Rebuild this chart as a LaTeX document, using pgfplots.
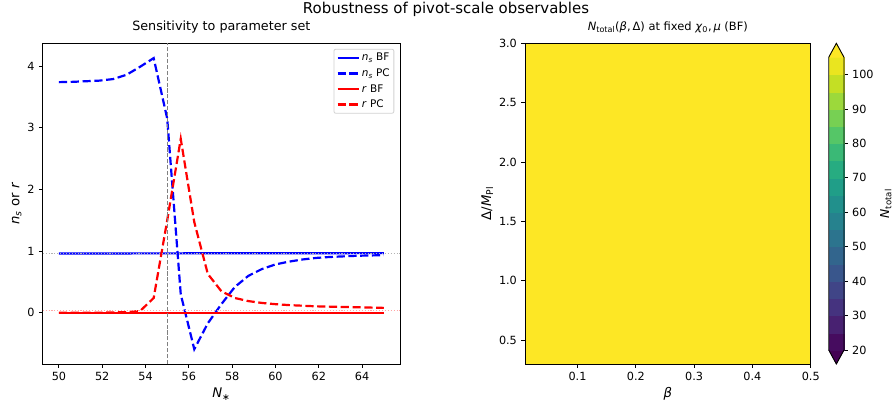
\documentclass[border=0pt]{standalone}
\usepackage{fontspec}
\setmainfont{DejaVu Sans}
\usepackage{pgfplots}
\pgfplotsset{compat=1.18}
\usepgfplotslibrary{patchplots}

\definecolor{vyellow}{HTML}{FDE725}
\newcommand{\ns}{\textit{n}\textsubscript{\textit{s}}}

\pgfplotsset{
  mpl/.style={
    scale only axis,
    tick align=outside,
    major tick length=3.9bp,
    every tick/.style={black, line width=0.9bp},
    axis line style={line width=0.9bp},
    xtick pos=bottom, ytick pos=left,
    ticklabel style={font=\fontsize{11.3}{13}\selectfont, inner sep=0pt},
    /pgf/number format/assume math mode=true,
    xticklabel shift=4bp,
    yticklabel shift=4bp,
    label style={font=\fontsize{13.3}{16}\selectfont, inner sep=0pt},
    title style={font=\fontsize{12.8}{15}\selectfont, at={(axis description cs:0.5,1)},
      anchor=base, yshift=6.6bp, inner sep=0pt},
  },
}

% N_* grid (25 points)
\pgfplotstableread{
N      nsBF    nsPC    rBF     rPC
50     0.962   3.740   0.003   0.000
50.625 0.962   3.745   0.003   0.000
51.25  0.962   3.755   0.003   0.000
51.875 0.963   3.765   0.003   0.002
52.5   0.963   3.790   0.003   0.005
53.125 0.963   3.860   0.003   0.012
53.75  0.964   3.990   0.003   0.030
54.375 0.964   4.130   0.003   0.240
55     0.964   3.150   0.003   1.500
55.625 0.964   0.300   0.003   2.820
56.25  0.965   -0.590  0.003   1.470
56.875 0.965   -0.170  0.003   0.630
57.5   0.965   0.140   0.003   0.350
58.125 0.965   0.420   0.003   0.240
58.75  0.966   0.600   0.003   0.190
59.375 0.966   0.710   0.003   0.160
60     0.966   0.785   0.003   0.140
60.625 0.966   0.830   0.003   0.125
61.25  0.967   0.865   0.003   0.115
61.875 0.967   0.890   0.003   0.105
62.5   0.967   0.905   0.003   0.100
63.125 0.967   0.915   0.003   0.095
63.75  0.968   0.925   0.003   0.090
64.375 0.968   0.930   0.003   0.085
65     0.968   0.935   0.003   0.080
}\sens

% discrete colour bar: x y level-midpoint
\pgfplotstableread{
x   y      c
0   20     20
1   20     20
0.5 15.93  20
0.5 15.93  20
0 20 22.5
1 20 22.5
1 25 22.5
0 25 22.5
0 25 27.5
1 25 27.5
1 30 27.5
0 30 27.5
0 30 32.5
1 30 32.5
1 35 32.5
0 35 32.5
0 35 37.5
1 35 37.5
1 40 37.5
0 40 37.5
0 40 42.5
1 40 42.5
1 45 42.5
0 45 42.5
0 45 47.5
1 45 47.5
1 50 47.5
0 50 47.5
0 50 52.5
1 50 52.5
1 55 52.5
0 55 52.5
0 55 57.5
1 55 57.5
1 60 57.5
0 60 57.5
0 60 62.5
1 60 62.5
1 65 62.5
0 65 62.5
0 65 67.5
1 65 67.5
1 70 67.5
0 70 67.5
0 70 72.5
1 70 72.5
1 75 72.5
0 75 72.5
0 75 77.5
1 75 77.5
1 80 77.5
0 80 77.5
0 80 82.5
1 80 82.5
1 85 82.5
0 85 82.5
0 85 87.5
1 85 87.5
1 90 87.5
0 90 87.5
0 90 92.5
1 90 92.5
1 95 92.5
0 95 92.5
0 95 97.5
1 95 97.5
1 100 97.5
0 100 97.5
0 100 102.5
1 100 102.5
1 105 102.5
0 105 102.5
0   105    105
1   105    105
0.5 109.07 105
0.5 109.07 105
}\cbar

\begin{document}
\begin{tikzpicture}[x=1bp,y=1bp]
\path[use as bounding box] (0,0) rectangle (892,407);
\node[font=\fontsize{15}{18}\selectfont, anchor=base, inner sep=0pt] at (446,393.7)
  {Robustness of pivot-scale observables};

% ---- left: sensitivity ----
\begin{axis}[mpl,
  at={(42.7bp,43bp)}, anchor=south west,
  width=357.3bp, height=320.7bp,
  xmin=49.25, xmax=65.75, ymin=-0.83, ymax=4.37,
  xtick={50,52,...,64}, ytick={0,1,2,3,4},
  title={Sensitivity to parameter set},
  xlabel={\textit{N}\textsubscript{∗}},
  ylabel={\ns{} or \textit{r}},
  xlabel style={at={(axis description cs:0.5,-0.106)}, anchor=base},
  ylabel style={at={(axis description cs:-0.0655,0.5)}, anchor=base},
  legend style={at={(axis description cs:0.984,0.983)}, anchor=north east,
    font=\fontsize{10.5}{12.5}\selectfont, draw=black!18, rounded corners=2bp,
    line width=0.8bp, inner sep=2.5bp, row sep=3.2bp,
    nodes={inner sep=1.6bp}},
  legend cell align=left,
  legend image code/.code={\draw[#1] (0,0) -- (21.7bp,0);},
]
\addplot[blue, line width=2.2bp] table[x=N, y=nsBF] {\sens};
\addlegendentry{\ns{} BF}
\addplot[blue, line width=2.2bp, dash pattern=on 8.2bp off 3.6bp] table[x=N, y=nsPC] {\sens};
\addlegendentry{\ns{} PC}
\addplot[red, line width=2.2bp] table[x=N, y=rBF] {\sens};
\addlegendentry{\textit{r} BF}
\addplot[red, line width=2.2bp, dash pattern=on 8.2bp off 3.6bp] table[x=N, y=rPC] {\sens};
\addlegendentry{\textit{r} PC}
\addplot[gray!60, line width=1.1bp, dash pattern=on 1.1bp off 1.8bp, forget plot]
  coordinates {(49.25,0.9649) (65.75,0.9649)};
\addplot[red!35, line width=1.1bp, dash pattern=on 1.1bp off 1.8bp, forget plot]
  coordinates {(49.25,0.036) (65.75,0.036)};
\addplot[gray, line width=1.1bp, dash pattern=on 4.1bp off 1.8bp, forget plot]
  coordinates {(55,-0.83) (55,4.37)};
\end{axis}

% ---- right: N_total contour ----
\begin{axis}[mpl,
  at={(525bp,43bp)}, anchor=south west,
  width=285.7bp, height=320.7bp,
  xmin=0.01, xmax=0.5, ymin=0.3, ymax=3.0,
  xtick={0.1,0.2,...,0.5}, ytick={0.5,1.0,...,3.0},
  xticklabel style={/pgf/number format/.cd, fixed, fixed zerofill, precision=1},
  yticklabel style={/pgf/number format/.cd, fixed, fixed zerofill, precision=1},
  title style={font=\fontsize{11.5}{14}\selectfont},
  title={\textit{N}\textsubscript{total}(\textit{β},\,Δ) at fixed \textit{χ}\textsubscript{0},\,\textit{μ} (BF)},
  xlabel={\textit{β}},
  ylabel={Δ/\textit{M}\textsubscript{Pl}},
  xlabel style={at={(axis description cs:0.5,-0.103)}, anchor=base},
  ylabel style={at={(axis description cs:-0.119,0.5)}, anchor=base},
  axis on top,
]
\addplot[fill=vyellow, draw=none] coordinates {(0.01,3.0) (0.5,3.0)} \closedcycle;
\end{axis}

% ---- colour bar ----
\begin{axis}[mpl,
  at={(828.7bp,43bp)}, anchor=south west,
  width=15.3bp, height=320.7bp,
  xmin=0, xmax=1, ymin=15.93, ymax=109.07,
  axis line style={draw=none},
  xtick=\empty, ytick={20,30,...,100},
  ytick pos=right, yticklabel pos=right,
  ylabel={\textit{N}\textsubscript{total}},
  ylabel style={at={(axis description cs:3.94,0.5)}, anchor=base,
    font=\fontsize{12.3}{14}\selectfont},
  colormap/viridis, point meta min=20, point meta max=105,
  clip=false,
]
\addplot[patch, patch type=rectangle, shader=flat, point meta=explicit]
  table[x=x, y=y, meta=c] {\cbar};
\addplot[black, line width=0.9bp] coordinates
  {(0,20) (0,105) (0.5,109.07) (1,105) (1,20) (0.5,15.93) (0,20)};
\end{axis}
\end{tikzpicture}
\end{document}
